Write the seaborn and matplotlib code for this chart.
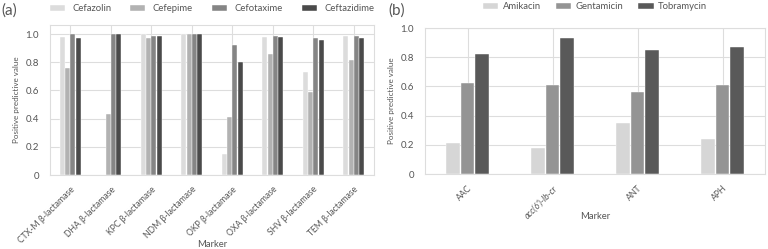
"""Positive predictive value of resistance markers, two panels"""

import pandas as pd
import seaborn as sns
import matplotlib.pyplot as plt

# panel (a): beta-lactamase markers vs cephalosporins
markers_a = [
    "CTX-M β-lactamase", "DHA β-lactamase", "KPC β-lactamase", "NDM β-lactamase",
    "OKP β-lactamase", "OXA β-lactamase", "SHV β-lactamase", "TEM β-lactamase",
]
drugs_a = ["Cefazolin", "Cefepime", "Cefotaxime", "Ceftazidime"]
cefazolin = [0.98, 0.0, 1.00, 1.00, 0.15, 0.98, 0.73, 0.99]
cefepime = [0.76, 0.43, 0.97, 1.00, 0.41, 0.86, 0.59, 0.82]
cefotaxime = [1.00, 1.00, 0.99, 1.00, 0.92, 0.99, 0.97, 0.99]
ceftazidime = [0.97, 1.00, 0.99, 1.00, 0.80, 0.98, 0.96, 0.97]

# panel (b): aminoglycoside markers
markers_b = ["AAC", "acc(6')-Ib-cr", "ANT", "APH"]
drugs_b = ["Amikacin", "Gentamicin", "Tobramycin"]
amikacin = [0.21, 0.18, 0.35, 0.24]
gentamicin = [0.62, 0.61, 0.56, 0.61]
tobramycin = [0.82, 0.93, 0.85, 0.87]

ytick_vals = [0, 0.2, 0.4, 0.6, 0.8, 1.0]
ytick_labels = ["0", "0.2", "0.4", "0.6", "0.8", "1.0"]

colors_a = ["#dcdcdc", "#b2b2b2", "#858585", "#4a4a4a"]
colors_b = ["#d6d6d6", "#949494", "#595959"]

TEXT = "#555555"
LINE = "#dddddd"


def long_table(markers, drugs, series):
    rows = []
    for drug, vals in zip(drugs, series):
        for m, v in zip(markers, vals):
            rows.append({"Marker": m, "Drug": drug, "PPV": v})
    return pd.DataFrame(rows)


df_a = long_table(markers_a, drugs_a, [cefazolin, cefepime, cefotaxime, ceftazidime])
df_b = long_table(markers_b, drugs_b, [amikacin, gentamicin, tobramycin])

sns.set_theme(style="whitegrid")
plt.rcParams["font.family"] = ["Lato", "DejaVu Sans"]
plt.rcParams["text.color"] = TEXT
plt.rcParams["axes.labelcolor"] = TEXT
plt.rcParams["xtick.color"] = TEXT
plt.rcParams["ytick.color"] = TEXT

fig = plt.figure(figsize=(7.68, 2.49), dpi=100)
ax_a = fig.add_axes([50 / 768, 74 / 249, 324 / 768, 150 / 249])
ax_b = fig.add_axes([425 / 768, 75 / 249, 340 / 768, 146 / 249])


def draw(ax, df, drugs, colors, ytop, ncol, spacing, textpad, leg_y, xlab_y):
    sns.barplot(
        data=df, x="Marker", y="PPV", hue="Drug", hue_order=drugs,
        palette=colors, width=0.52, gap=0.08, ax=ax, zorder=2,
        edgecolor="white", linewidth=0.3,
    )
    ax.set_ylim(0, ytop)
    ax.set_yticks(ytick_vals)
    ax.set_yticklabels(ytick_labels, fontsize=7)
    ax.set_ylabel("Positive predictive value", fontsize=5.8)
    ax.set_xlabel("Marker", fontsize=6.8)
    ax.xaxis.set_label_coords(0.5, xlab_y)
    ax.tick_params(axis="x", labelsize=6.2, pad=1)
    ax.tick_params(axis="y", pad=2)
    for lab in ax.get_xticklabels():
        lab.set_rotation(45)
        lab.set_ha("right")
        lab.set_rotation_mode("anchor")
    ax.grid(True, color=LINE, linewidth=0.8)
    ax.set_axisbelow(True)
    for s in ax.spines.values():
        s.set_color(LINE)
        s.set_linewidth(0.8)
    ax.legend(
        loc="center", bbox_to_anchor=(0.5, leg_y), ncol=ncol, frameon=False,
        fontsize=6.8, handlelength=1.6, handleheight=0.5, columnspacing=spacing,
        handletextpad=textpad, borderaxespad=0, borderpad=0,
    )


draw(ax_a, df_a, drugs_a, colors_a, 1.065, 4, 2.0, 0.8, 1.107, -0.43)
draw(ax_b, df_b, drugs_b, colors_b, 1.0, 3, 1.6, 0.5, 1.144, -0.26)
ax_b.get_xticklabels()[1].set_style("italic")

fig.text(0.002, 0.985, "(a)", fontsize=11, va="top", ha="left")
fig.text(388 / 768, 0.985, "(b)", fontsize=11, va="top", ha="left")

plt.savefig("out.png", dpi=100)
